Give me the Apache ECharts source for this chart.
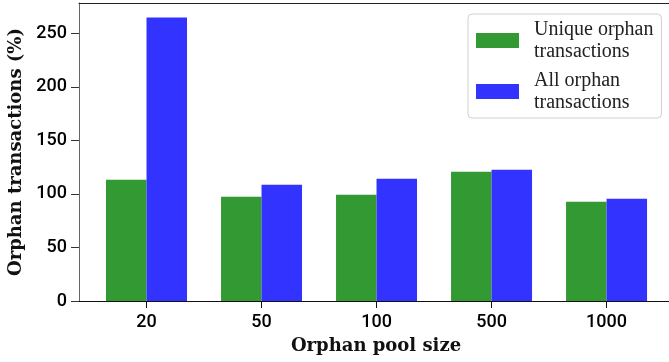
<!DOCTYPE html>
<html>
<head>
<meta charset="utf-8">
<script src="https://cdn.jsdelivr.net/npm/echarts@6/dist/echarts.min.js"></script>
<style>
html,body{margin:0;padding:0;background:#fff;}
#chart{width:669px;height:362px;}
</style>
</head>
<body>
<div id="chart"></div>
<script>
const categories = ['20', '50', '100', '500', '1000'];
const uniqueOrphan = [113.3, 97.4, 99.3, 120.8, 92.7];
const allOrphan = [265, 108.6, 114.2, 122.7, 95.5];
const yTicks = [0, 50, 100, 150, 200, 250];
const seriesNames = ['Unique orphan\ntransactions', 'All orphan\ntransactions'];

const idx = categories.map((c, i) => i);
const chart = echarts.init(document.getElementById('chart'), null, {renderer: 'canvas'});

const tickFont = {fontFamily: 'Roboto', fontWeight: 500, fontSize: 18, color: '#000'};

const option = {
  animation: false,
  backgroundColor: '#fff',
  grid: {left: 79, right: 0, top: 3, bottom: 61, containLabel: false},
  legend: {
    orient: 'vertical',
    left: 468, top: 14,
    padding: [4.5, 8, 4.5, 8],
    itemGap: 7,
    itemWidth: 43, itemHeight: 15,
    borderColor: '#d0d0d0', borderWidth: 1, borderRadius: 4,
    backgroundColor: '#fff',
    icon: 'rect',
    textStyle: {fontFamily: 'Liberation Serif', fontSize: 20, lineHeight: 22, color: '#222', padding: [0, 0, 0, 10]},
    data: seriesNames
  },
  xAxis: [{
    type: 'value', min: -0.587, max: 4.543,
    splitLine: {show: false},
    axisLine: {show: true, onZero: false, lineStyle: {color: '#111', width: 1}},
    axisTick: {show: true, length: 7, lineStyle: {color: '#111'}, customValues: idx},
    axisLabel: Object.assign({show: true, margin: 12, customValues: idx,
      formatter: v => categories[Math.round(v)]}, tickFont)
  }, {
    type: 'value', position: 'top', min: -0.587, max: 4.543,
    splitLine: {show: false},
    axisLine: {show: true, onZero: false, lineStyle: {color: '#222', width: 1}},
    axisTick: {show: false}, axisLabel: {show: false}
  }],
  yAxis: {
    type: 'value', min: 0, max: 278.5,
    splitLine: {show: false},
    axisLine: {show: true, onZero: false, lineStyle: {color: '#666', width: 1}},
    axisTick: {show: true, length: 8, lineStyle: {color: '#333'}, customValues: yTicks},
    axisLabel: Object.assign({margin: 12, customValues: yTicks}, tickFont)
  },
  series: [{
    name: seriesNames[0], type: 'bar', xAxisIndex: 0,
    barWidth: 40.5, barGap: '0%',
    itemStyle: {color: '#339933'},
    data: uniqueOrphan.map((v, i) => [i, v])
  }, {
    name: seriesNames[1], type: 'bar', xAxisIndex: 0,
    barWidth: 40.5, barGap: '0%',
    itemStyle: {color: '#3333ff'},
    data: allOrphan.map((v, i) => [i, v])
  }],
  graphic: [{
    type: 'text', x: 376, y: 346,
    style: {text: 'Orphan pool size', fontFamily: 'DejaVu Serif', fontWeight: 'bold', fontSize: 18, fill: '#111', align: 'center', verticalAlign: 'middle'}
  }, {
    type: 'text', x: 16, y: 152, rotation: Math.PI / 2,
    style: {text: 'Orphan transactions (%)', fontFamily: 'DejaVu Serif', fontWeight: 'bold', fontSize: 18, fill: '#111', align: 'center', verticalAlign: 'middle'}
  }]
};
chart.setOption(option);
</script>
</body>
</html>
